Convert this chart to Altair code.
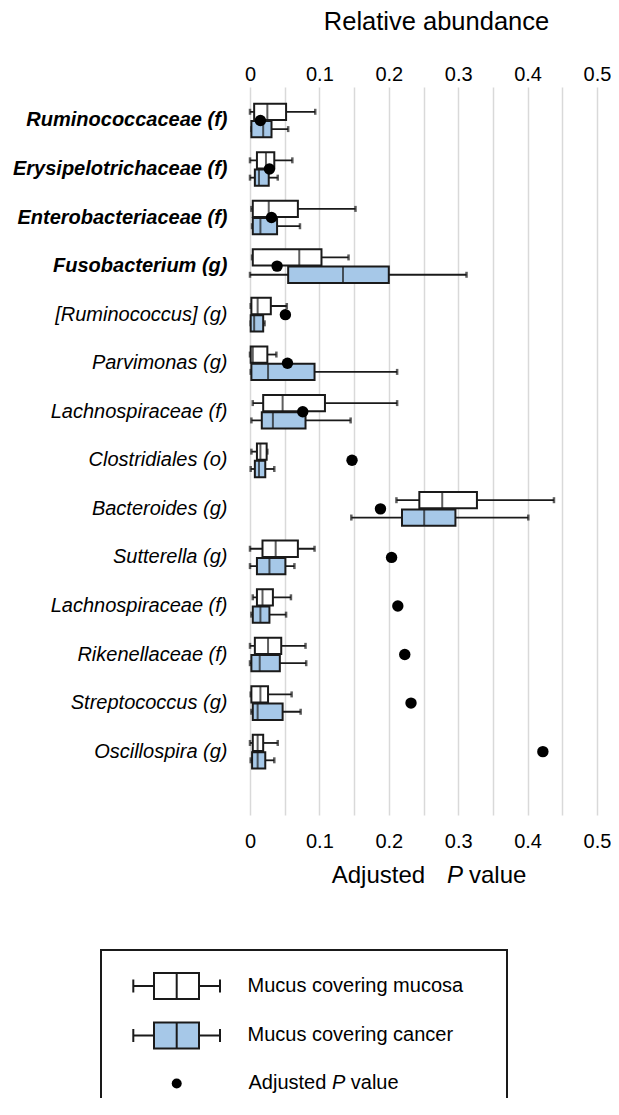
import json
import altair as alt
import pandas as pd

# ---------------- data ----------------
categories = [
    "Ruminococcaceae (f)", "Erysipelotrichaceae (f)", "Enterobacteriaceae (f)",
    "Fusobacterium (g)", "[Ruminococcus] (g)", "Parvimonas (g)",
    "Lachnospiraceae (f)", "Clostridiales (o)", "Bacteroides (g)",
    "Sutterella (g)", "Lachnospiraceae (f)", "Rikenellaceae (f)",
    "Streptococcus (g)", "Oscillospira (g)",
]
significant = [True, True, True, True, False, False, False,
               False, False, False, False, False, False, False]

mucosa_min = [0.000, 0.000, 0.002, 0.003, 0.001, 0.000, 0.004, 0.002, 0.211, 0.000, 0.004, 0.000, 0.001, 0.000]
mucosa_q1 = [0.006, 0.010, 0.004, 0.004, 0.002, 0.001, 0.019, 0.010, 0.244, 0.018, 0.010, 0.007, 0.002, 0.004]
mucosa_med = [0.025, 0.023, 0.027, 0.071, 0.011, 0.004, 0.047, 0.015, 0.277, 0.037, 0.018, 0.026, 0.015, 0.011]
mucosa_q3 = [0.052, 0.035, 0.069, 0.103, 0.030, 0.025, 0.108, 0.024, 0.327, 0.069, 0.033, 0.045, 0.026, 0.019]
mucosa_max = [0.094, 0.061, 0.152, 0.142, 0.053, 0.038, 0.212, 0.025, 0.438, 0.093, 0.059, 0.080, 0.060, 0.040]

cancer_min = [0.002, 0.000, 0.003, 0.000, 0.001, 0.001, 0.002, 0.001, 0.146, 0.000, 0.002, 0.000, 0.002, 0.001]
cancer_q1 = [0.002, 0.007, 0.004, 0.055, 0.001, 0.002, 0.017, 0.007, 0.219, 0.010, 0.004, 0.002, 0.004, 0.003]
cancer_med = [0.019, 0.013, 0.015, 0.134, 0.006, 0.026, 0.033, 0.013, 0.251, 0.028, 0.015, 0.014, 0.011, 0.011]
cancer_q3 = [0.031, 0.027, 0.039, 0.200, 0.019, 0.093, 0.080, 0.022, 0.296, 0.051, 0.028, 0.043, 0.047, 0.022]
cancer_max = [0.055, 0.040, 0.072, 0.312, 0.021, 0.212, 0.145, 0.035, 0.401, 0.064, 0.052, 0.081, 0.073, 0.035]

adjusted_p = [0.015, 0.028, 0.031, 0.039, 0.051, 0.054, 0.076, 0.147, 0.188, 0.204, 0.213, 0.223, 0.232, 0.422]

tick_values = [0, 0.05, 0.1, 0.15, 0.2, 0.25, 0.3, 0.35, 0.4, 0.45, 0.5]
groups = ["mucosa", "cancer"]
legend_labels = ["Mucus covering mucosa", "Mucus covering cancer"]
top_title = "Relative abundance"
p_title_parts = ["Adjusted", "P", "value"]

# ---------------- styling ----------------
FONT = "Liberation Sans"
INK = "#1a1a1a"
BLUE = "#a6c8e8"
GRID = "#d9d9d9"

rows = list(range(len(categories)))
recs = []
for g, st in (("mucosa", (mucosa_min, mucosa_q1, mucosa_med, mucosa_q3, mucosa_max)),
              ("cancer", (cancer_min, cancer_q1, cancer_med, cancer_q3, cancer_max))):
    for i in rows:
        recs.append({"row": i, "group": g, "lo": st[0][i], "q1": st[1][i],
                     "med": st[2][i], "q3": st[3][i], "hi": st[4][i]})
box_df = pd.DataFrame(recs)
p_df = pd.DataFrame({"row": rows, "p": adjusted_p})
one = pd.DataFrame({"k": [0]})

x_scale = alt.Scale(domain=[0, 0.5], nice=False, zero=False)
y_scale = alt.Scale(type="band", domain=rows, paddingInner=0, paddingOuter=0.497, align=0.19)
yo_scale = alt.Scale(domain=groups, paddingInner=0.06, paddingOuter=0.43)
fill_scale = alt.Scale(domain=groups, range=["#ffffff", BLUE])

label_expr = "[" + ",".join(json.dumps(c) for c in categories) + "][datum.value]"
bold_rows = [i for i, s in enumerate(significant) if s]
bold_test = "indexof(" + json.dumps(bold_rows) + ", datum.value) >= 0"

y_axis = alt.Axis(
    title=None, labelExpr=label_expr, labelFont=FONT, labelFontSize=20,
    labelFontStyle="italic",
    labelFontWeight=alt.condition(bold_test, alt.value("bold"), alt.value("normal")),
    labelColor="black", labelPadding=23, ticks=False, domain=False, grid=False,
    labelLimit=0,
)
Y = alt.Y("row:O", scale=y_scale, axis=y_axis)
YO = alt.YOffset("group:N", scale=yo_scale)

label_expr_x = "round(datum.value*100) % 10 == 0 ? datum.label : ''"
top_axis = alt.Axis(
    orient="top", values=tick_values, format=".1~f", labelExpr=label_expr_x,
    grid=True, gridColor=GRID, gridWidth=1.5, ticks=False, domain=False,
    labelFont=FONT, labelFontSize=20, labelColor="black", labelPadding=3,
    labelFlush=False, labelOverlap=False,
    title=top_title, titleFont=FONT, titleFontSize=25.5, titleFontWeight="normal",
    titleColor="black", titlePadding=30, titleX=186, titleAlign="center",
)
bottom_axis = alt.Axis(
    orient="bottom", values=tick_values, format=".1~f", labelExpr=label_expr_x,
    grid=False, ticks=False, domain=False,
    labelFont=FONT, labelFontSize=20, labelColor="black", labelPadding=16,
    labelFlush=False, labelOverlap=False, title=None,
)

base = alt.Chart(box_df)
whisk = base.mark_rule(color=INK, strokeWidth=1.8).encode(
    x=alt.X("lo:Q", scale=x_scale, axis=top_axis), x2="hi:Q", y=Y, yOffset=YO)
cap_lo = base.mark_tick(color=INK, thickness=2.5, size=6).encode(
    x=alt.X("lo:Q", scale=x_scale, axis=None), y=Y, yOffset=YO)
cap_hi = base.mark_tick(color=INK, thickness=2.5, size=6).encode(
    x=alt.X("hi:Q", scale=x_scale, axis=None), y=Y, yOffset=YO)
box = base.mark_rect(stroke=INK, strokeWidth=2).encode(
    x=alt.X("q1:Q", scale=x_scale, axis=None), x2="q3:Q", y=Y, yOffset=YO,
    fill=alt.Fill("group:N", scale=fill_scale, legend=None))
med = base.mark_tick(color=INK, thickness=2, size=16).encode(
    x=alt.X("med:Q", scale=x_scale, axis=None), y=Y, yOffset=YO)
dots = alt.Chart(p_df).mark_circle(color="black", size=130, opacity=1).encode(
    x=alt.X("p:Q", scale=x_scale, axis=bottom_axis), y=Y)


def txt(s, x, y, size, italic=False, align="left", baseline="alphabetic"):
    return alt.Chart(one).mark_text(
        text=s, font=FONT, fontSize=size, fontStyle="italic" if italic else "normal",
        color="black", align=align, baseline=baseline,
    ).encode(x=alt.value(x), y=alt.value(y))


def vrule(x, y1, y2, w=2):
    return alt.Chart(one).mark_rule(color=INK, strokeWidth=w).encode(
        x=alt.value(x), y=alt.value(y1), y2=alt.value(y2))


def hrule(x1, x2, y, w=2):
    return alt.Chart(one).mark_rule(color=INK, strokeWidth=w).encode(
        x=alt.value(x1), x2=alt.value(x2), y=alt.value(y))


# bottom axis title with italic P
title_layers = [
    txt(p_title_parts[0], 81.7, 796, 24),
    txt(p_title_parts[1], 197, 796, 24, italic=True),
    txt(p_title_parts[2], 219, 796, 24),
]

# legend (plot-relative pixel positions)
legend_layers = [
    alt.Chart(one).mark_rect(fillOpacity=0, stroke=INK, strokeWidth=2).encode(
        x=alt.value(-149), x2=alt.value(257), y=alt.value(863), y2=alt.value(1060)),
]
for cy, fill in ((899, "#ffffff"), (948.5, BLUE)):
    legend_layers += [
        hrule(-116.7, -30, cy),
        vrule(-116.7, cy - 6.5, cy + 6.5),
        vrule(-30, cy - 6.5, cy + 6.5),
        alt.Chart(one).mark_rect(fill=fill, stroke=INK, strokeWidth=2).encode(
            x=alt.value(-96), x2=alt.value(-51), y=alt.value(cy - 13), y2=alt.value(cy + 13)),
        vrule(-73.3, cy - 13, cy + 13),
    ]
legend_layers += [
    alt.Chart(one).mark_circle(color="black", size=100, opacity=1).encode(
        x=alt.value(-73.3), y=alt.value(996.5)),
    txt(legend_labels[0], -2.5, 904.7, 20),
    txt(legend_labels[1], -2.5, 953.5, 20),
    txt(p_title_parts[0], -1.5, 1002.3, 20),
    txt(p_title_parts[1], 81.9, 1002.3, 20, italic=True),
    txt(p_title_parts[2], 100.8, 1002.3, 20),
]

chart = alt.layer(
    whisk, cap_lo, cap_hi, box, med, dots, *title_layers, *legend_layers
).resolve_scale(x="shared").resolve_axis(x="independent").properties(
    width=347, height=728,
    autosize=alt.AutoSizeParams(type="none"),
    padding={"left": 242, "top": 79, "right": 14, "bottom": 283},
).configure_view(stroke=None)

chart.save("out.html", embed_options={"renderer": "svg", "actions": False})
